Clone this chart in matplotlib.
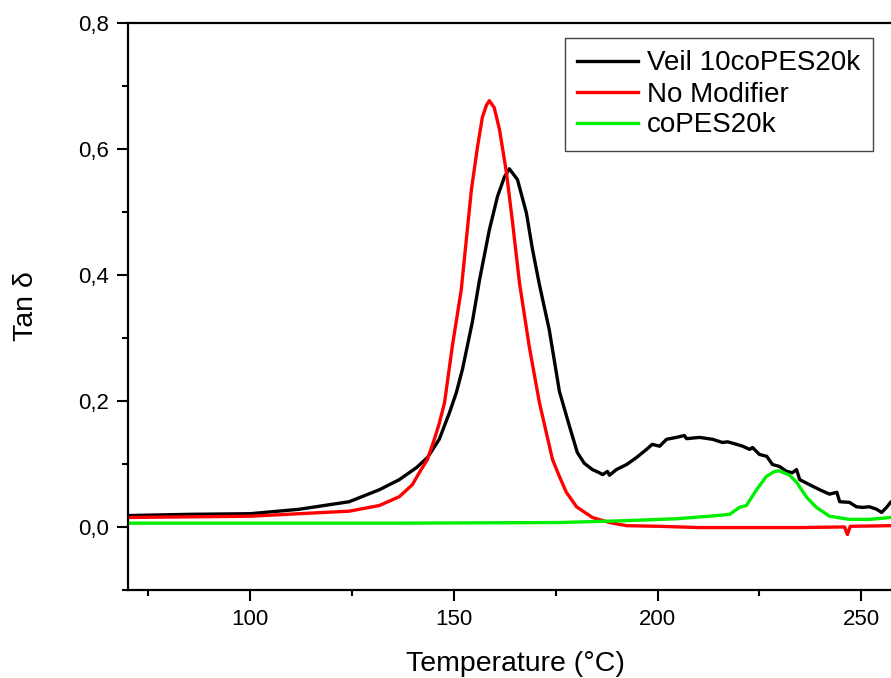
import matplotlib
matplotlib.use("Agg")
import matplotlib.pyplot as plt
from matplotlib.ticker import MultipleLocator, FuncFormatter

plt.rcParams['font.family'] = ['Liberation Sans', 'DejaVu Sans']

# Tan delta vs temperature (DMA)
veil_T = [69.8, 85.0, 100.0, 112.0, 124.3, 131.7, 136.6, 140.8, 143.5, 146.4,
          148.9, 150.6, 152.1, 154.5, 156.3, 158.7, 160.7, 162.4, 163.6, 165.6,
          167.8, 169.3, 171.0, 173.4, 175.9, 178.4, 180.3, 182.0, 184.0, 185.7,
          186.5, 187.7, 188.2, 189.9, 192.4, 194.8, 197.3, 198.7, 200.5, 202.2,
          204.6, 206.6, 207.1, 210.3, 213.5, 215.9, 217.2, 219.4, 220.9, 222.6,
          223.3, 225.0, 226.8, 228.2, 229.9, 231.7, 233.1, 234.1, 234.9, 237.3,
          239.8, 242.2, 244.0, 244.7, 247.1, 248.8, 250.3, 252.0, 253.8, 255.0,
          256.2, 257.2]
veil_tan = [0.018, 0.020, 0.021, 0.028, 0.040, 0.059, 0.075, 0.094, 0.110, 0.139,
            0.181, 0.213, 0.250, 0.324, 0.392, 0.471, 0.524, 0.555, 0.568, 0.551,
            0.498, 0.440, 0.384, 0.313, 0.215, 0.159, 0.118, 0.101, 0.091, 0.086,
            0.083, 0.088, 0.082, 0.091, 0.099, 0.110, 0.123, 0.131, 0.128, 0.139,
            0.142, 0.145, 0.140, 0.142, 0.139, 0.134, 0.135, 0.131, 0.128, 0.123,
            0.126, 0.115, 0.112, 0.099, 0.096, 0.088, 0.086, 0.091, 0.075, 0.067,
            0.059, 0.052, 0.055, 0.040, 0.039, 0.032, 0.031, 0.032, 0.028, 0.023,
            0.031, 0.039]

nomod_T = [69.8, 100.0, 112.0, 124.3, 131.7, 136.6, 139.8, 141.5, 143.5, 145.2,
           146.4, 147.7, 149.6, 151.8, 154.3, 155.8, 157.0, 158.0, 158.7, 159.9,
           161.2, 162.9, 164.4, 166.1, 168.5, 171.0, 174.2, 175.9, 177.6, 180.1,
           184.0, 188.2, 192.4, 200.5, 210.3, 222.6, 234.9, 245.9, 246.6, 247.3,
           257.2]
nomod_tan = [0.015, 0.017, 0.021, 0.025, 0.034, 0.048, 0.067, 0.086, 0.107, 0.139,
             0.164, 0.197, 0.286, 0.376, 0.535, 0.603, 0.650, 0.669, 0.676, 0.665,
             0.630, 0.562, 0.483, 0.387, 0.286, 0.197, 0.107, 0.080, 0.055, 0.032,
             0.015, 0.007, 0.002, 0.001, -0.001, -0.001, -0.001, 0.000, -0.012, 0.001,
             0.002]

copes_T = [69.8, 100.0, 136.6, 175.9, 192.4, 204.6, 212.7, 217.7, 220.1, 221.8,
           224.3, 226.7, 228.7, 229.9, 232.4, 234.1, 236.6, 239.0, 242.2, 247.1,
           252.0, 257.2]
copes_tan = [0.006, 0.006, 0.006, 0.007, 0.010, 0.013, 0.017, 0.020, 0.031, 0.034,
             0.059, 0.080, 0.088, 0.089, 0.082, 0.071, 0.047, 0.031, 0.017, 0.012,
             0.012, 0.015]

labels = ["Veil 10coPES20k", "No Modifier", "coPES20k"]
colors = ["#000000", "#ff0000", "#00ee00"]

W, H = 891, 678
fig = plt.figure(figsize=(W / 100, H / 100), dpi=100)
left, right = 128 / W, 902 / W
bottom, top = (H - 590) / H, (H - 22.5) / H
ax = fig.add_axes([left, bottom, right - left, top - bottom])

for T, v, lab, c in zip([veil_T, nomod_T, copes_T],
                        [veil_tan, nomod_tan, copes_tan], labels, colors):
    ax.plot(T, v, color=c, lw=2.4, label=lab, solid_joinstyle='round')

ax.set_xlim(70, 260)
ax.set_ylim(-0.1, 0.8)

ax.xaxis.set_major_locator(MultipleLocator(50))
ax.xaxis.set_minor_locator(MultipleLocator(25))
ax.yaxis.set_major_locator(MultipleLocator(0.2))
ax.yaxis.set_minor_locator(MultipleLocator(0.1))
ax.yaxis.set_major_formatter(FuncFormatter(lambda v, p: f"{v:.1f}".replace('.', ',')))

ax.tick_params(which='major', direction='out', length=8, width=1.5,
               labelsize=16, pad=6)
ax.tick_params(which='minor', direction='out', length=4.5, width=1.5)
ax.tick_params(axis='x', which='both', top=False)
ax.tick_params(axis='y', which='both', right=False)

for s in ax.spines.values():
    s.set_linewidth(1.6)

ax.set_xlabel("Temperature (°C)", fontsize=20.5, labelpad=15)
ax.set_ylabel("Tan δ", fontsize=20.5, labelpad=28)

leg = ax.legend(loc='upper right', bbox_to_anchor=(873 / W, 1 - 38 / H),
                bbox_transform=fig.transFigure, fontsize=20, frameon=True,
                fancybox=False, edgecolor='#444444', framealpha=1,
                handlelength=2.2, handletextpad=0.32, labelspacing=0.18,
                borderpad=0.45, borderaxespad=0)
leg.get_frame().set_linewidth(1.0)

fig.savefig("out.png", dpi=100)
